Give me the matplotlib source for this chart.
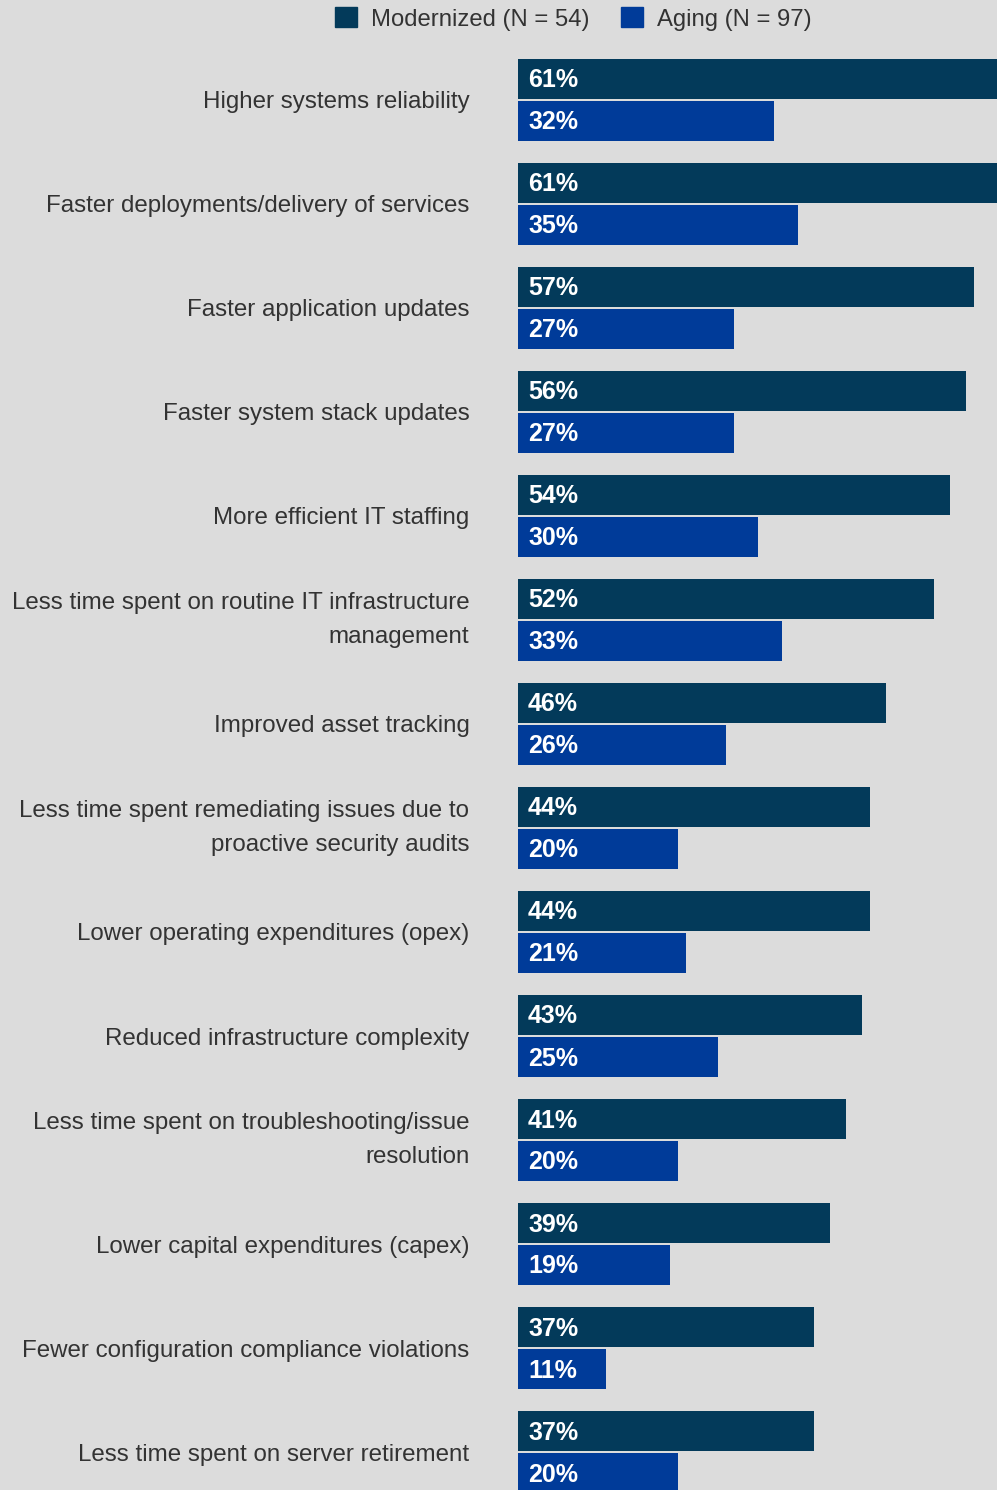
import matplotlib.pyplot as plt
from matplotlib.patches import Patch

plt.rcParams['font.family'] = ['Liberation Sans', 'DejaVu Sans']

categories = [
    "Higher systems reliability",
    "Faster deployments/delivery of services",
    "Faster application updates",
    "Faster system stack updates",
    "More efficient IT staffing",
    "Less time spent on routine IT infrastructure\nmanagement",
    "Improved asset tracking",
    "Less time spent remediating issues due to\nproactive security audits",
    "Lower operating expenditures (opex)",
    "Reduced infrastructure complexity",
    "Less time spent on troubleshooting/issue\nresolution",
    "Lower capital expenditures (capex)",
    "Fewer configuration compliance violations",
    "Less time spent on server retirement",
]
modernized = [61, 61, 57, 56, 54, 52, 46, 44, 44, 43, 41, 39, 37, 37]
aging = [32, 35, 27, 27, 30, 33, 26, 20, 21, 25, 20, 19, 11, 20]

c_mod = "#033a5a"
c_age = "#003b99"
bg = "#dcdcdc"
txt = "#333333"

W, H = 997, 1490
fig = plt.figure(figsize=(W / 100, H / 100), dpi=100, facecolor=bg)
ax = fig.add_axes([518 / W, 0, 1 - 518 / W, 1])
ax.set_facecolor(bg)

step = 104.0
off = 21 / step
bh = 40 / step
ys = list(range(len(categories)))
ax.barh([y - off for y in ys], modernized, height=bh, color=c_mod)
ax.barh([y + off for y in ys], aging, height=bh, color=c_age)

ax.set_xlim(0, 479 / 8)
ax.set_ylim((H - 100) / step, -100 / step)

# value labels inside bars
dy = 1.5 / step
for y, m, a in zip(ys, modernized, aging):
    ax.text(1.25, y - off + dy, f"{m}%", color="white", fontsize=18, fontweight="bold",
            va="center", ha="left")
    ax.text(1.25, y + off + dy, f"{a}%", color="white", fontsize=18, fontweight="bold",
            va="center", ha="left")

ax.set_yticks(ys)
labels = ax.set_yticklabels(categories, fontsize=17.4, color=txt, ha="right", linespacing=1.65)
for lb in labels:
    if "\n" in lb.get_text():
        lb.set_va("center")
ax.tick_params(axis="y", length=0, pad=35)
ax.set_xticks([])
for s in ax.spines.values():
    s.set_visible(False)

handles = [Patch(color=c_mod, label="Modernized (N = 54)"),
           Patch(color=c_age, label="Aging (N = 97)")]
fig.legend(handles=handles, loc="center", bbox_to_anchor=(573.5 / W, 1 - 19 / H), ncol=2,
           frameon=False, fontsize=17.2, labelcolor=txt, handlelength=0.92, handleheight=0.92,
           handletextpad=0.59, columnspacing=1.3)

fig.savefig("out.png", dpi=100, facecolor=bg)
